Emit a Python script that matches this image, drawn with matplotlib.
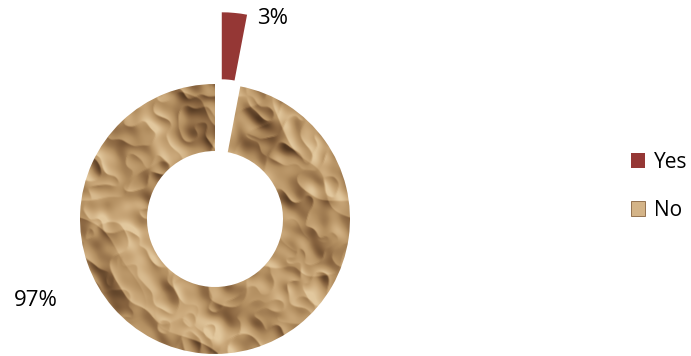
import matplotlib
matplotlib.use("Agg")
import matplotlib.pyplot as plt
import numpy as np
from matplotlib.colors import LinearSegmentedColormap
from matplotlib.patches import Patch

# answers to the survey question
labels = ["Yes", "No"]
shares = [3, 97]
pct_labels = [f"{v}%" for v in shares]

yes_color = "#953735"
paper_cmap = LinearSegmentedColormap.from_list(
    "paper", ["#503620", "#86623e", "#b28e60", "#cba97b", "#e2c89e"])

fig = plt.figure(figsize=(6.91, 3.56), dpi=100)
ax = fig.add_axes([0, 0, 1, 1])

cx, cy, R = 215, 356 - 219, 135
wedges, _ = ax.pie(shares, radius=R, center=(cx, cy), startangle=90,
                   counterclock=False, explode=[72, 0],
                   colors=[yes_color, "#b28e60"],
                   wedgeprops=dict(width=67, linewidth=0), frame=True)

# crumpled paper fill for the "No" ring: ridged noise + hillshading
rng = np.random.default_rng(5)
N = 300
fy = np.fft.fftfreq(N)[:, None]
fx = np.fft.fftfreq(N)[None, :]
f2 = fx ** 2 + fy ** 2
height = np.zeros((N, N))
for sigma, w in [(0.006, 1.0), (0.012, 0.6), (0.024, 0.3)]:
    noise = rng.standard_normal((N, N))
    smooth = np.real(np.fft.ifft2(np.fft.fft2(noise) * np.exp(-f2 / (2 * sigma ** 2))))
    smooth /= smooth.std()
    height += w * (1 - np.abs(smooth))
gy, gx = np.gradient(height)
shade = -(gx * 0.7 - gy * 0.7)
shade = (shade - shade.mean()) / shade.std()
tex = np.clip(0.56 + 0.19 * shade + 0.06 * (height - height.mean()), 0, 1)

img = ax.imshow(tex, cmap=paper_cmap, vmin=0, vmax=1, interpolation="bilinear",
                extent=[cx - R, cx + R, cy - R, cy + R], zorder=1.5)
img.set_clip_path(wedges[1])
wedges[1].set_facecolor("none")

ax.set_xlim(0, 691)
ax.set_ylim(0, 356)
ax.set_aspect("auto")
ax.axis("off")

ax.text(273, 356 - 18, pct_labels[0], fontsize=16, ha="center", va="center",
        family="Open Sans")
ax.text(36, 356 - 300, pct_labels[1], fontsize=16, ha="center", va="center",
        family="Open Sans")

handles = [Patch(facecolor=yes_color, edgecolor="none"),
           Patch(facecolor="#d4b488", edgecolor="#86623e", linewidth=0.6)]
fig.legend(handles, labels, loc="center left", bbox_to_anchor=(0.913, 0.477),
           frameon=False, prop=dict(family="Open Sans", size=15),
           borderpad=0, borderaxespad=0,
           handlelength=0.68, handleheight=0.68, handletextpad=0.45,
           labelspacing=1.3)

fig.savefig("out.png", dpi=100)
